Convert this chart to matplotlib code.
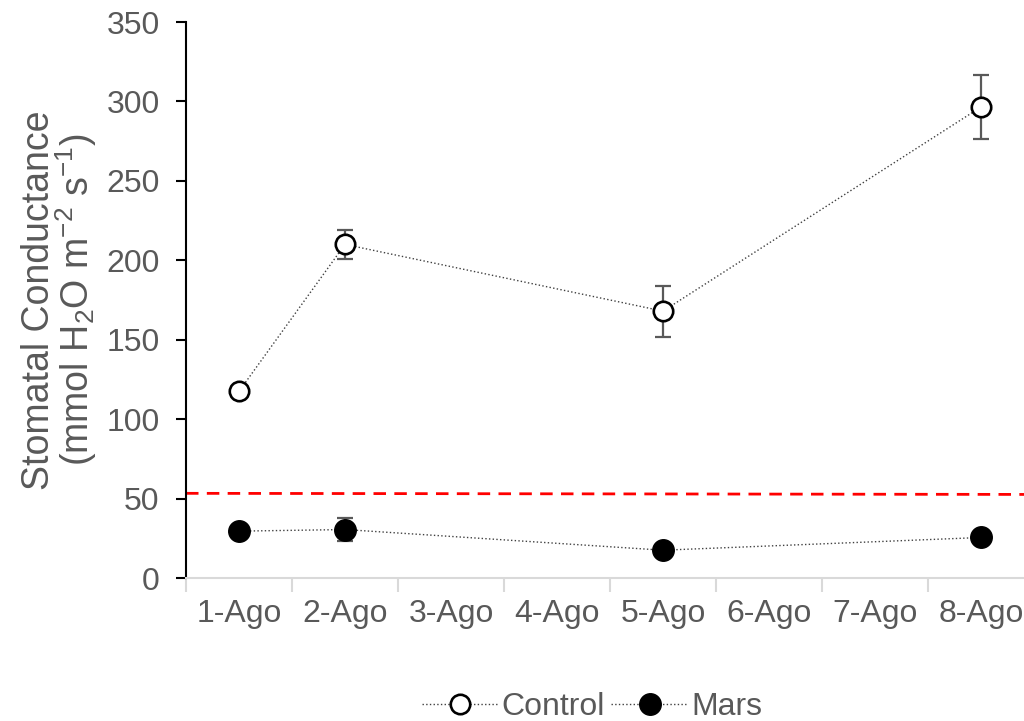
import numpy as np
import matplotlib.pyplot as plt
from matplotlib.ticker import FixedLocator, NullFormatter

# datos
dias = ["1-Ago", "2-Ago", "3-Ago", "4-Ago", "5-Ago", "6-Ago", "7-Ago", "8-Ago"]
x_idx = [0, 1, 4, 7]
control = [117.5, 210, 168, 296.5]
control_err = [3, 9, 16, 20]
mars = [29.5, 30.5, 17.5, 25.5]
mars_err = [2, 7, 2, 2]
umbral = [53.3, 52.6]

gris = "#595959"
plt.rcParams['font.family'] = ['Liberation Sans', 'DejaVu Sans']
plt.rcParams['mathtext.fontset'] = 'custom'
plt.rcParams['mathtext.rm'] = 'Liberation Sans'
plt.rcParams['mathtext.it'] = 'Liberation Sans'
plt.rcParams['mathtext.default'] = 'regular'

fig = plt.figure(figsize=(10.24, 7.21), dpi=100)
ax = fig.add_axes([186 / 1024, 1 - 578 / 721, 848 / 1024, 556 / 721])

xc = np.array(x_idx) + 0.5
ax.errorbar(xc, control, yerr=control_err, fmt='none', ecolor=gris,
            elinewidth=1.6, capsize=6, capthick=1.6, zorder=2)
ax.errorbar(xc, mars, yerr=mars_err, fmt='none', ecolor=gris,
            elinewidth=1.6, capsize=6, capthick=1.6, zorder=2)
ax.plot(xc, control, ':', color='#404040', lw=1, marker='o', ms=14,
        mfc='white', mec='black', mew=1.9, label='Control', zorder=3)
ax.plot(xc, mars, ':', color='#404040', lw=1, marker='o', ms=15.5,
        mfc='black', mec='black', label='Mars', zorder=3)
ax.plot([0, 8], umbral, color='#ff0000', lw=2, dashes=(4.5, 3), zorder=1)

ax.set_xlim(0, 8)
ax.set_ylim(0, 350)
ax.set_yticks(np.arange(0, 351, 50))
ax.xaxis.set_major_locator(FixedLocator(np.arange(8) + 0.5))
ax.set_xticklabels(dias)
ax.xaxis.set_minor_locator(FixedLocator(np.arange(0, 9)))
ax.xaxis.set_minor_formatter(NullFormatter())
ax.tick_params(axis='x', which='major', length=0, pad=15, labelsize=23, labelcolor=gris)
ax.tick_params(axis='x', which='minor', length=10, width=1.5, color='#d9d9d9')
ax.tick_params(axis='y', length=7, width=1.5, color='black', labelsize=23,
               labelcolor=gris, pad=12)

for s in ['top', 'right']:
    ax.spines[s].set_visible(False)
ax.spines['left'].set_linewidth(1.5)
ax.spines['bottom'].set_color('#d9d9d9')
ax.spines['bottom'].set_linewidth(1.5)

ax.set_ylabel("Stomatal Conductance\n(mmol H$_2$O m$^{-2}$ s$^{-1}$)",
              fontsize=27, color=gris, linespacing=0.9, labelpad=5)

leg = fig.legend(loc='center', bbox_to_anchor=(0.578, 1 - 707 / 721), ncol=2,
                 frameon=False, fontsize=23, handlelength=2.4, columnspacing=0.2,
                 handletextpad=0.1)
for t in leg.get_texts():
    t.set_color(gris)

plt.savefig("out.png", dpi=100)
plt.close()
